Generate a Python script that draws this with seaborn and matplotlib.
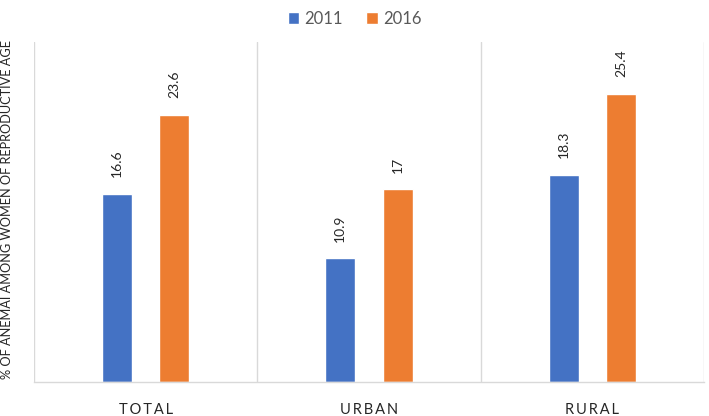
import matplotlib
matplotlib.use("Agg")
import matplotlib.pyplot as plt
import pandas as pd
import seaborn as sns

categories = ["TOTAL", "URBAN", "RURAL"]
years = ["2011", "2016"]
values_2011 = [16.6, 10.9, 18.3]
values_2016 = [23.6, 17, 25.4]
colors = ["#4472C4", "#ED7D31"]

TEXT = "#595959"
GRID = "#d9d9d9"

df = pd.DataFrame({
    "category": categories * 2,
    "year": [years[0]] * 3 + [years[1]] * 3,
    "value": values_2011 + values_2016,
})

sns.set_theme(style="white")
plt.rcParams["font.family"] = ["Lato", "DejaVu Sans"]

fig = plt.figure(figsize=(7.09, 4.16), dpi=100)
ax = fig.add_axes([34 / 709, 1 - 382 / 416, 670 / 709, 340 / 416])

sns.barplot(data=df, x="category", y="value", hue="year", palette=colors,
            width=0.514, gap=0.48, saturation=1, ax=ax, legend=True)

for cont in ax.containers:
    ax.bar_label(cont, fmt="%g", rotation=90, padding=12, fontsize=10, color="#262626")

ax.set_xlim(-0.5, 2.5)
ax.set_ylim(0, 30)
ax.set_yticks([])
for s in ["top", "right", "left"]:
    ax.spines[s].set_visible(False)
ax.spines["bottom"].set_color(GRID)
ax.spines["bottom"].set_linewidth(1)
for xv in [-0.5, 0.5, 1.5, 2.5]:
    ax.axvline(xv, color=GRID, lw=1, zorder=0)

ax.set_xticks(range(len(categories)))
ax.set_xticklabels(["\u2009".join(c) for c in categories], fontsize=10.5, color="#262626")
ax.tick_params(axis="x", length=0, pad=15)
ax.set_xlabel("")
ax.set_ylabel("% OF ANEMAI AMONG WOMEN OF REPRODUCTIVE AGE", fontsize=9.2, color="#262626")
ax.yaxis.set_label_coords(-0.031, 0.506)

handles, labels = ax.get_legend_handles_labels()
ax.legend_.remove()
fig.legend(handles, labels, loc="center", bbox_to_anchor=(0.5, 1 - 19 / 416), ncol=2,
           frameon=False, fontsize=12, labelcolor=TEXT, handlelength=0.7, handleheight=0.7,
           handletextpad=0.3, columnspacing=1.4)

fig.savefig("out.png", dpi=100)
